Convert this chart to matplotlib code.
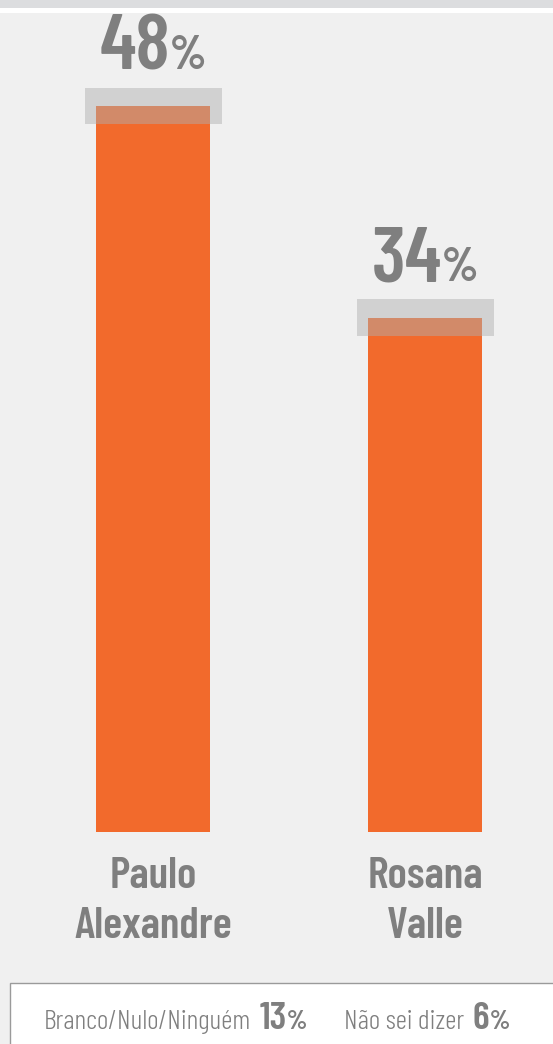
import matplotlib
matplotlib.use('Agg')
import matplotlib.pyplot as plt
from matplotlib.patches import Rectangle
from matplotlib.transforms import offset_copy

# dados da pesquisa
candidatos = ['Paulo\nAlexandre', 'Rosana\nValle']
valores = [48, 34]
margem = 1.2  # faixa cinza em torno do topo da barra
outros_rotulos = ['Branco/Nulo/Ninguém', 'Não sei dizer']
outros_valores = [13, 6]

LARANJA = '#f26a2c'
CINZA_TXT = '#7f7f7f'
FUNDO = '#f0f0f0'

FAM = ['Barlow Condensed', 'Roboto Condensed', 'DejaVu Sans']

W, H = 553, 1044
fig = plt.figure(figsize=(W / 100, H / 100), dpi=100, facecolor=FUNDO)


def px(x, y):
    return x / W, 1 - y / H


# faixa do topo (atrás do texto)
fig.add_artist(Rectangle(px(0, 8), 1, 8 / H, transform=fig.transFigure, facecolor='#dcdddf',
                         edgecolor='none', zorder=-2))
fig.add_artist(Rectangle(px(0, 13), 1, 5 / H, transform=fig.transFigure, facecolor='white',
                         edgecolor='none', zorder=-2))

# eixo das barras: x=0 em 153 px, 1 unidade = 272 px; y=0 em 832 px, 1% = 15.13 px
ax = fig.add_axes([0, (H - 832) / H, 1, 832 / H])
ax.set_facecolor('none')
ax.set_xlim(-153 / 272, (W - 153) / 272)
ax.set_ylim(0, 832 / 15.13)
ax.axis('off')

pos = list(range(len(valores)))
ax.bar(pos, valores, width=114 / 272, color=LARANJA, zorder=2)
ax.bar(pos, [2 * margem] * len(valores), bottom=[v - margem for v in valores], width=137 / 272,
       color='#afafaf', alpha=0.47, zorder=3)

fig.canvas.draw()
r = fig.canvas.get_renderer()

for i, v in enumerate(valores):
    t1 = ax.text(i, v + 2.4, str(v), fontsize=57, fontweight=600, color=CINZA_TXT, family=FAM, clip_on=False)
    t2 = ax.text(i, v + 2.4, '%', fontsize=34, fontweight=700, color=CINZA_TXT, family=FAM, clip_on=False)
    w1 = t1.get_window_extent(r).width
    w2 = t2.get_window_extent(r).width
    tot = w1 + w2
    t1.set_transform(offset_copy(ax.transData, fig, x=-tot / 2, units='dots'))
    t2.set_transform(offset_copy(ax.transData, fig, x=-tot / 2 + w1, units='dots'))
    for t in (t1, t2):
        t.set_ha('left')
        t.set_va('baseline')

# nomes abaixo das barras
for i, nome in enumerate(candidatos):
    for j, linha in enumerate(nome.split('\n')):
        ax.text(i, -(888 + 50 * j - 832) / 15.13, linha, ha='center', va='baseline',
                fontsize=32, fontweight=600, color=CINZA_TXT, clip_on=False, family=FAM)

# caixa inferior
fig.add_artist(Rectangle(px(10, 1060), 1, (1060 - 983) / H, transform=fig.transFigure,
                         facecolor='white', edgecolor='#9a9a9a', linewidth=1))

base = 1 - 1029 / H
x_rot = [44, 344]
x_val = [260, 473]
for rot, val, xr, xv in zip(outros_rotulos, outros_valores, x_rot, x_val):
    fig.text(xr / W, base, rot, fontsize=20, fontweight=300, color=CINZA_TXT, va='baseline', family=FAM)
    t = fig.text(xv / W, base, str(val), fontsize=28, fontweight=600, color=CINZA_TXT, va='baseline', family=FAM)
    wv = t.get_window_extent(r).width
    fig.text((xv + wv) / W, base, '%', fontsize=19, fontweight=700, color=CINZA_TXT, va='baseline', family=FAM)

fig.savefig('out.png', dpi=100, facecolor=FUNDO)
